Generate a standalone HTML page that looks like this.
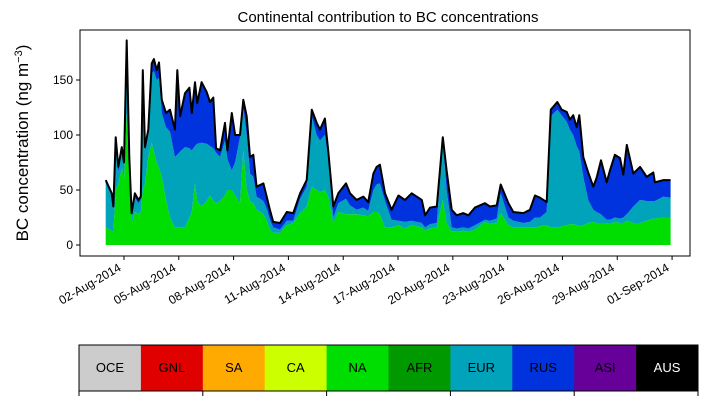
<!DOCTYPE html>
<html><head><meta charset="utf-8"><style>
body{margin:0;background:#fff;}
svg{font-family:"Liberation Sans",sans-serif;}
</style></head><body>
<svg id="chart" width="707" height="402" viewBox="0 0 707 402">
<text x="388" y="22" font-size="15" text-anchor="middle">Continental contribution to BC concentrations</text>
<text transform="translate(28,143) rotate(-90)" font-size="17" text-anchor="middle">BC concentration (ng m<tspan baseline-shift="super" font-size="11">−3</tspan>)</text>
<g id="plot"></g>
<rect x="80" y="30" width="610" height="226" fill="none" stroke="#000" stroke-width="1"/>
<g id="xaxis"></g>
<g id="yaxis"></g>
<g id="legend"></g>
</svg>
<script>
const days=[0,0.33,0.42,0.55,0.69,0.88,1.0,1.15,1.29,1.42,1.6,1.79,1.92,2.03,2.15,2.33,2.52,2.64,2.79,2.92,3.07,3.3,3.52,3.79,3.92,4.07,4.34,4.58,4.71,4.89,5.01,5.25,5.53,5.71,5.89,6.04,6.26,6.53,6.66,6.9,7.08,7.35,7.53,7.72,7.9,8.08,8.26,8.63,8.81,8.99,9.17,9.54,9.91,10.27,10.64,11.0,11.28,11.55,11.73,12.0,12.18,12.46,12.73,13.15,13.37,13.74,14.1,14.37,14.65,14.83,15.01,15.29,15.65,16.02,16.38,16.75,17.3,17.48,17.75,18.12,18.45,18.66,18.94,19.21,19.57,19.85,20.21,20.76,21.03,21.4,21.62,22.04,22.31,22.86,23.22,23.5,23.77,24.14,24.36,24.72,24.96,25.23,25.41,25.59,25.78,25.92,26.14,26.41,26.69,26.87,27.11,27.42,27.6,27.87,28.15,28.33,28.52,28.88,29.25,29.61,29.97,30.06,30.52,30.92];
const totalBC=[59,47,35,98,71,89,75,186,80,29,47,41,44,159,89,105,165,169,159,166,132,120,123,105,159,117,138,143,120,148,129,148,139,130,134,88,86,111,86,120,100,100,132,117,80,82,53,56,44,32,21,20,30,29,47,59,123,111,105,115,86,35,47,56,47,41,44,39,65,71,73,47,32,45,41,47,41,27,34,35,98,68,32,27,29,27,34,38,35,36,55,38,30,29,32,45,43,39,123,130,123,121,114,118,107,118,80,66,53,61,77,57,68,82,79,64,91,65,71,62,66,57,59,59];
const eurTop=[57,45,33,92,66,85,72,180,75,26,43,38,41,150,85,100,156,158,150,152,120,107,103,80,82,85,89,88,86,90,92,93,92,90,88,84,80,95,78,68,75,98,125,100,65,62,44,40,33,23,16,14,22,22,42,53,117,100,95,100,78,25,38,42,36,32,34,31,50,55,56,40,23,22,21,22,20,16,19,20,95,50,16,15,16,15,18,23,22,24,47,25,22,20,21,25,25,30,117,123,118,112,105,100,90,85,62,41,32,30,28,23,23,25,24,25,28,35,41,40,40,40,44,43];
const naBC=[16,13,12,50,55,70,60,120,60,20,30,28,30,50,56,80,93,85,75,70,62,41,25,16,16,16,16,25,30,56,40,35,40,45,40,38,40,45,50,50,45,38,86,50,40,38,32,28,22,14,11,11,18,20,29,35,53,50,48,50,44,20,30,28,28,28,27,26,30,30,28,16,16,18,15,18,16,13,15,16,41,20,12,12,13,12,14,21,19,20,29,18,16,16,16,16,17,18,16,16,17,18,19,19,18,17,18,20,21,20,20,20,19,21,20,20,22,20,20,22,24,24,25,25];
const tickDays=[1,4,7,10,13,16,19,22,25,28,31];
const tickLabels=["02-Aug-2014","05-Aug-2014","08-Aug-2014","11-Aug-2014","14-Aug-2014","17-Aug-2014","20-Aug-2014","23-Aug-2014","26-Aug-2014","29-Aug-2014","01-Sep-2014"];
const yTicks=[0,50,100,150];
const regions=["OCE","GNL","SA","CA","NA","AFR","EUR","RUS","ASI","AUS"];
const regionColors=["#cccccc","#e00000","#ffaa00","#ccff00","#00dd00","#009900","#00a3b9","#0033dd","#660099","#000000"];

const NS="http://www.w3.org/2000/svg";
const X=d=>105.7+d*18.27;
const Y=v=>245-v*1.1;
const plot=document.getElementById('plot');
function mk(tag,attrs,parent){const e=document.createElementNS(NS,tag);for(const k in attrs)e.setAttribute(k,attrs[k]);parent.appendChild(e);return e;}
function area(lower,upper,color,name){
  let d='M'+days.map((t,i)=>X(t).toFixed(1)+','+Y(upper[i]).toFixed(1)).join('L');
  for(let i=days.length-1;i>=0;i--)d+='L'+X(days[i]).toFixed(1)+','+Y(lower[i]).toFixed(1);
  const p=mk('path',{d:d+'Z',fill:color},plot);
  
  
}
const zero=days.map(()=>0);
area(zero,naBC,regionColors[4],'area-na');
area(naBC,eurTop,regionColors[6],'area-eur');
area(eurTop,totalBC,regionColors[7],'area-rus');
const line=mk('path',{d:'M'+days.map((t,i)=>X(t).toFixed(1)+','+Y(totalBC[i]).toFixed(1)).join('L'),fill:'none',stroke:'#000','stroke-width':2,'stroke-linejoin':'round'},plot);



const xa=document.getElementById('xaxis');
tickDays.forEach((d,i)=>{
  const x=X(d);
  const t=mk('line',{x1:x,x2:x,y1:256,y2:260,stroke:'#000'},xa);
  
  
  const lx=x-2, ly=270;
  const l=mk('text',{x:lx,y:ly,'font-size':12,'text-anchor':'end',transform:`rotate(-30 ${lx} ${ly})`},xa);
  
  
  l.textContent=tickLabels[i];
});
const ya=document.getElementById('yaxis');
yTicks.forEach(v=>{
  const y=Y(v);
  const t=mk('line',{x1:76,x2:80,y1:y,y2:y,stroke:'#000'},ya);
  
  
  const l=mk('text',{x:73,y:y+4,'font-size':12,'text-anchor':'end'},ya);
  
  
  l.textContent=v;
});
const lg=document.getElementById('legend');
const w=61.9;
regions.forEach((r,i)=>{
  const x=79+i*w;
  const b=mk('rect',{x:x,y:345,width:w+0.5,height:46,fill:regionColors[i]},lg);
  
  
  const t=mk('text',{x:x+w/2,y:372,'font-size':13,'text-anchor':'middle',fill:r==='AUS'?'#fff':'#000'},lg);
  
  
  t.textContent=r;
});
const fr=mk('rect',{x:79,y:345,width:619,height:46,fill:'none',stroke:'#000','stroke-width':1},lg);


for(let k=0;k<=5;k++){
  const x=79+k*2*w;
  const t=mk('line',{x1:x,x2:x,y1:391,y2:396,stroke:'#000'},lg);
  
  
}
</script>
</body></html>
